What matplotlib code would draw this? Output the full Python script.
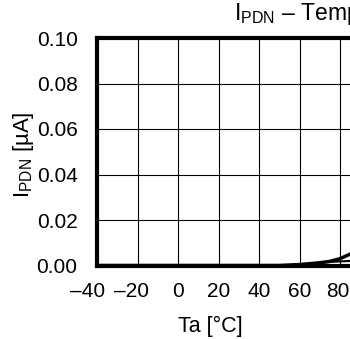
import matplotlib
matplotlib.use("Agg")
import matplotlib.pyplot as plt
from matplotlib.transforms import ScaledTranslation

plt.rcParams['font.family'] = ['Liberation Sans', 'DejaVu Sans']
plt.rcParams['mathtext.fontset'] = 'custom'
plt.rcParams['mathtext.rm'] = 'Liberation Sans'

# data
temps = [-40, -20, 0, 20, 40, 50, 60, 70, 75, 80, 85, 90]
ipdn_max = [0.0, 0.0, 0.0, 0.0, 0.0, 0.0, 0.0004, 0.0012, 0.0018, 0.0030, 0.0050, 0.0075]
ipdn_typ = [0.0, 0.0, 0.0, 0.0, 0.0, 0.0, 0.0004, 0.0012, 0.0016, 0.0018, 0.0020, 0.0023]

xticks = [-40, -20, 0, 20, 40, 60, 80, 100]
xlabels = ['\u201340', '\u201320', '0', '20', '40', '60', '80', '100']
yticks = [0.00, 0.02, 0.04, 0.06, 0.08, 0.10]
ylabels = ['0.00', '0.02', '0.04', '0.06', '0.08', '0.10']

fig = plt.figure(figsize=(3.5, 3.39), dpi=100)
W, H = 350, 339
ax = fig.add_axes([97 / W, (H - 265.5) / H, 283.5 / W, 227.5 / H])

ax.plot(temps, ipdn_typ, color='black', lw=1.5, solid_capstyle='butt')
ax.plot(temps, ipdn_max, color='black', lw=2.5, solid_capstyle='butt')

ax.set_xlim(-40, 100)
ax.set_ylim(0, 0.10)
ax.set_xticks(xticks)
ax.set_xticklabels(xlabels)
ax.set_yticks(yticks)
ax.set_yticklabels(ylabels)
ax.grid(True, color='black', lw=0.8)
ax.tick_params(length=0, labelsize=15)
ax.tick_params(axis='x', pad=12)
ax.tick_params(axis='y', pad=14)

for s in ['left', 'bottom', 'top']:
    ax.spines[s].set_linewidth(3)
ax.spines['right'].set_visible(False)

# small left shifts of the negative labels, like the original
shifts = {0: -9, 1: -6, 6: -2}
for i, lab in enumerate(ax.get_xticklabels()):
    if i in shifts:
        lab.set_transform(lab.get_transform() + ScaledTranslation(shifts[i] / 100, 0, fig.dpi_scale_trans))

ax.set_xlabel('Ta [°C]', fontsize=15.5)
ax.xaxis.set_label_coords((210 - 97) / 283.5, (265.5 - 326) / 227.5)
ax.xaxis.label.set_va('center')
ax.set_ylabel(r'$\mathregular{I_{PDN}}$ [µA]', fontsize=16)
ax.yaxis.set_label_coords((24 - 97) / 283.5, (265.5 - 155) / 227.5)
ax.yaxis.label.set_va('center')

fig.text(234 / W, 1 - 14 / H, r'$\mathregular{I_{PDN}}$ ' + '\u2013 Temperature',
         fontsize=16.5, ha='left', va='center')

fig.savefig('out.png', dpi=100)
